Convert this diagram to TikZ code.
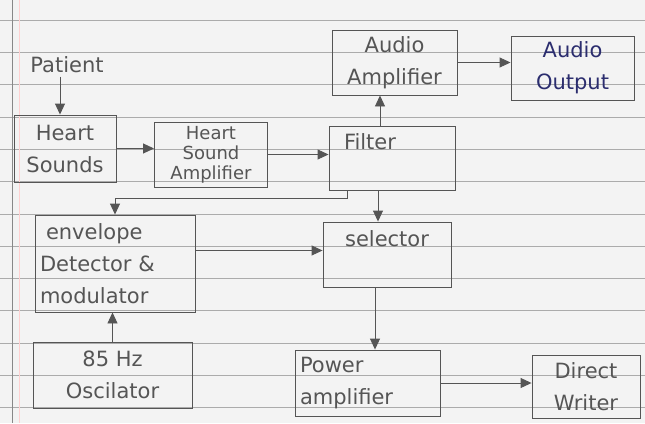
\documentclass[tikz,border=0pt]{standalone}
\usepackage{fontspec}
\setmainfont{DejaVu Sans}
\usetikzlibrary{arrows.meta}
\definecolor{pencil}{HTML}{555555}
\definecolor{ink}{HTML}{2B2D6E}
\definecolor{paper}{HTML}{F3F3F3}
\definecolor{rulecol}{HTML}{ABABAB}
\begin{document}
\begin{tikzpicture}[x=1pt,y=-1pt,
  every node/.style={font=\fontsize{21}{32}\selectfont,text=pencil},
  blk/.style={draw=pencil,line width=0.9pt,inner sep=3pt,align=center},
  arr/.style={draw=pencil,line width=0.9pt,-{Triangle[length=11pt,width=10pt]}}]
  % paper
  \fill[paper] (0,0) rectangle (645,423);
  \useasboundingbox (0,0) rectangle (645,423);
  \foreach \k in {0,...,12}
    \draw[rulecol,line width=0.6pt] (0,{20+32.3*\k}) -- (645,{20+32.3*\k});
  \draw[pencil!70,line width=0.8pt] (12,0) -- (12,423);
  \draw[red!18,line width=0.6pt] (19,0) -- (19,423);
  % blocks
  \node (patient) at (67,65) {Patient};
  \node[blk,minimum width=102pt,minimum height=67pt] (heart) at (65,148.5) {Heart\\Sounds};
  \node[blk,minimum width=113pt,minimum height=65pt,inner sep=1pt,font=\fontsize{18}{20}\selectfont] (hsamp) at (211,154.5) {Heart\\Sound\\Amplifier};
  \node[blk,minimum width=126pt,minimum height=64pt,text width=116pt,align=left] (filter) at (392,158) {\hspace{10pt}Filter\\\mbox{}};
  \node[blk,minimum width=125pt,minimum height=65pt] (audamp) at (394.5,62.5) {Audio\\Amplifier};
  \node[blk,minimum width=123pt,minimum height=64pt,text=ink] (audout) at (572.5,68) {Audio\\Output};
  \node[blk,minimum width=160pt,minimum height=97pt,text width=150pt,align=left] (env) at (115,263.5) {\hspace{6pt}envelope\\Detector \&\\modulator};
  \node[blk,minimum width=128pt,minimum height=65pt] (sel) at (387,254.5) {selector\\\mbox{}};
  \node[blk,minimum width=159pt,minimum height=66pt] (osc) at (112.5,375) {85 Hz\\Oscilator};
  \node[blk,minimum width=145pt,minimum height=66pt,text width=135pt,align=left] (pwr) at (367.5,383) {Power\\amplifier};
  \node[blk,minimum width=108pt,minimum height=63pt] (direct) at (586,386.5) {Direct\\Writer};
  % connectors
  \draw[arr] ([xshift=-7pt]patient.south) -- ([xshift=-7pt]patient.south |- heart.north);
  \draw[arr] (heart.east) -- (heart.east -| hsamp.west);
  \draw[arr] (hsamp.east) -- (hsamp.east -| filter.west);
  \draw[arr] ([xshift=-12pt]filter.north) -- ([xshift=-12pt]filter.north |- audamp.south);
  \draw[arr] (audamp.east) -- (audamp.east -| audout.west);
  \draw[arr] ([xshift=-14pt]filter.south) -- ([xshift=-14pt]filter.south |- sel.north);
  \draw[arr] ([xshift=-45pt]filter.south) -- ++(0,8) -| (env.north);
  \draw[arr] ([yshift=13pt]env.east) -- ([yshift=13pt]env.east -| sel.west);
  \draw[arr] (osc.north) -- (osc.north |- env.south);
  \draw[arr] ([xshift=-12pt]sel.south) -- ([xshift=-12pt]sel.south |- pwr.north);
  \draw[arr] (pwr.east) -- (pwr.east -| direct.west);
\end{tikzpicture}
\end{document}
